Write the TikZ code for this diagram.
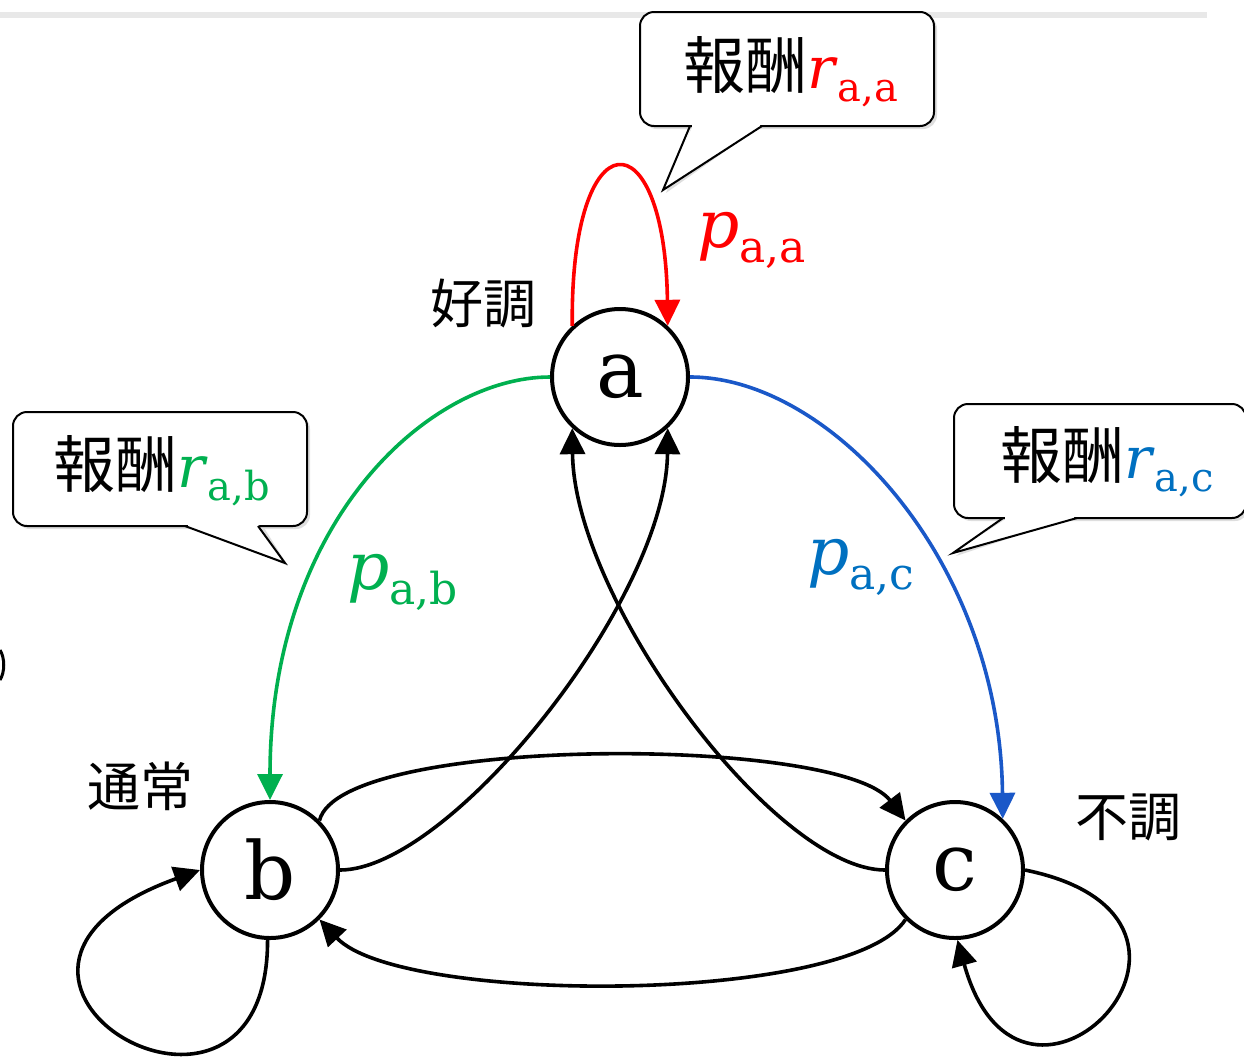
\documentclass[tikz,border=0pt]{standalone}
\usepackage{fontspec}
\setmainfont{DejaVu Serif}
\newfontfamily\cjk{Noto Sans CJK JP}
\usetikzlibrary{arrows.meta}
\definecolor{cred}{HTML}{FF0000}
\definecolor{cgreen}{HTML}{00B050}
\definecolor{cgreenl}{HTML}{00B04F}
\definecolor{cblue}{HTML}{1A58C8}
\definecolor{cbluet}{HTML}{0070C0}
\begin{document}
\begin{tikzpicture}[x=1pt,y=-1pt,
  state/.style={circle,draw,line width=4pt,minimum size=136pt,inner sep=0pt,
    font=\fontsize{80}{80}\selectfont},
  conn/.style={line width=3.6pt,-{Triangle[length=26pt,width=25pt]}},
  jlabel/.style={font=\cjk\fontsize{53}{53}\selectfont,inner sep=0pt},
  bubble/.style={line width=2pt,fill=white,rounded corners=14pt},
  bshadow/.style={fill=black!13},
  btext/.style={anchor=base west,inner sep=0pt},
  plabel/.style={anchor=base west,inner sep=0pt},
]
\useasboundingbox (0,0) rectangle (1244,1058);

% faint rule at top
\draw[line width=6pt,black!9] (0,15) -- (1207,15);
% cut-off arc at left edge
\draw[line width=3pt] (0,650) .. controls (5,658) and (5,672) .. (0,680);

% states
\node[state] (a) at (620,377) {a};
\node[state] (b) at (270,870) {b};
\node[state] (c) at (955,870) {c};

\node[jlabel] (la) at (483,304) {好調};
\node[jlabel] (lb) at (140,786) {通常};
\node[jlabel] (lc) at (1128,817) {不調};

% coloured transitions
\draw[conn,cred] (a.133) .. controls (570,115) and (665,115) .. (a.47);
\draw[conn,cgreenl] (a.west) .. controls (430,377) and (270,520) .. (b.north);
\draw[conn,cblue] (a.east) .. controls (830,377) and (1000,560) .. (c.47);

% black transitions
\draw[conn] (b.east) .. controls (450,870) and (666,600) .. (a.-47);
\draw[conn] (c.west) .. controls (775,870) and (574,600) .. (a.-133);
\draw[conn] (b.45) .. controls (340,735) and (840,735) .. (c.135);
\draw[conn] (c.-135) .. controls (850,1005) and (400,1005) .. (b.-45);
\draw[conn] (b.-92) .. controls (268,1185) and (-90,975) .. (b.180);
\draw[conn] (c.east) .. controls (1266,919) and (1022,1172) .. (c.-88);

% probability labels
\node[plabel] (pa) at (697,247) {\color{cred}\fontsize{66}{66}\selectfont\textit{p}\raisebox{-15pt}{\fontsize{44}{44}\selectfont a,a}};
\node[plabel] (pb) at (347,589) {\color{cgreen}\fontsize{66}{66}\selectfont\textit{p}\raisebox{-15pt}{\fontsize{44}{44}\selectfont a,b}};
\node[plabel] (pc) at (807,574) {\color{cbluet}\fontsize{66}{66}\selectfont\textit{p}\raisebox{-15pt}{\fontsize{44}{44}\selectfont a,c}};

% callout top
\begin{scope}[shift={(3,3)}]
  \fill[bshadow,rounded corners=14pt] (640,12) rectangle (934,126);
  \fill[bshadow] (690,120) -- (663,190) -- (762,120) -- cycle;
\end{scope}
\draw[bubble] (640,12) rectangle (934,126);
\fill[white] (692,120) -- (692,127.5) -- (663,190) -- (760,127.5) -- (760,120) -- cycle;
\draw[line width=2pt,line join=miter] (690,126) -- (663,190) -- (762,126);
\node[btext] (ra) at (683,88) {{\cjk\fontsize{62}{62}\selectfont 報酬}{\color{cred}\fontsize{58}{58}\selectfont\textit{r}\raisebox{-13pt}{\fontsize{40}{40}\selectfont a,a}}};

% callout left
\begin{scope}[shift={(3,3)}]
  \fill[bshadow,rounded corners=14pt] (13,412) rectangle (307,526);
  \fill[bshadow] (185,520) -- (285,563) -- (258,520) -- cycle;
\end{scope}
\draw[bubble] (13,412) rectangle (307,526);
\fill[white] (188,520) -- (188,527.5) -- (284,561) -- (259,527.5) -- (259,520) -- cycle;
\draw[line width=2pt,line join=miter] (185,526) -- (285,563) -- (258,526);
\node[btext] (rb) at (53,487) {{\cjk\fontsize{62}{62}\selectfont 報酬}{\color{cgreen}\fontsize{58}{58}\selectfont\textit{r}\raisebox{-13pt}{\fontsize{40}{40}\selectfont a,b}}};

% callout right
\begin{scope}[shift={(3,3)}]
  \fill[bshadow,rounded corners=14pt] (954,404) rectangle (1246,518);
  \fill[bshadow] (1003,512) -- (953,553) -- (1077,512) -- cycle;
\end{scope}
\draw[bubble] (954,404) rectangle (1246,518);
\fill[white] (1005,512) -- (1005,519.5) -- (955,552) -- (1074,519.5) -- (1074,512) -- cycle;
\draw[line width=2pt,line join=miter] (1003,518) -- (953,553) -- (1077,518);
\node[btext] (rc) at (1000,478) {{\cjk\fontsize{62}{62}\selectfont 報酬}{\color{cbluet}\fontsize{58}{58}\selectfont\textit{r}\raisebox{-13pt}{\fontsize{40}{40}\selectfont a,c}}};
\end{tikzpicture}
\end{document}
